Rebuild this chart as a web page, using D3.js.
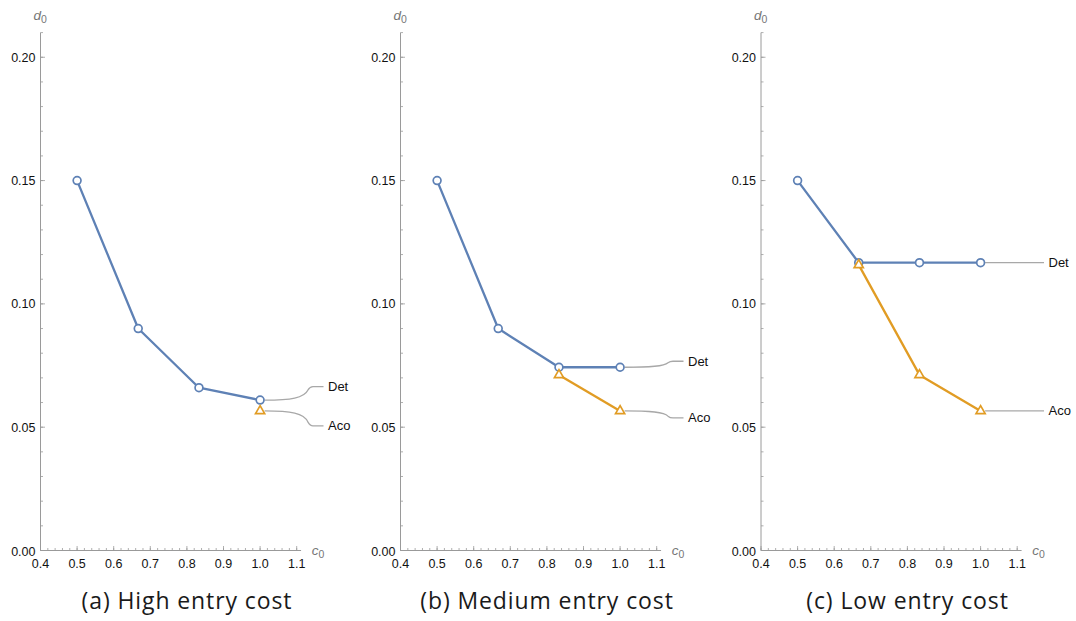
<!DOCTYPE html>
<html>
<head>
<meta charset="utf-8">
<script src="https://cdn.jsdelivr.net/npm/d3@7"></script>
<style>
  html, body { margin: 0; padding: 0; background: #fff; }
  svg { display: block; }
</style>
</head>
<body>
<svg id="chart" width="1076" height="621"></svg>
<script>
// ---------- data ----------
const captions = ["(a) High entry cost", "(b) Medium entry cost", "(c) Low entry cost"];
const xTicks = [0.4, 0.5, 0.6, 0.7, 0.8, 0.9, 1.0, 1.1];
const yTicks = [0.00, 0.05, 0.10, 0.15, 0.20];
const seriesNames = ["Det", "Aco"];

const detXA = [0.5, 0.667, 0.833, 1.0];
const detYA = [0.150, 0.090, 0.066, 0.061];
const acoXA = [1.0];
const acoYA = [0.0566];

const detXB = [0.5, 0.667, 0.833, 1.0];
const detYB = [0.150, 0.090, 0.0743, 0.0743];
const acoXB = [0.833, 1.0];
const acoYB = [0.0712, 0.0566];

const detXC = [0.5, 0.667, 0.833, 1.0];
const detYC = [0.150, 0.1167, 0.1167, 0.1167];
const acoXC = [0.667, 0.833, 1.0];
const acoYC = [0.1158, 0.0712, 0.0566];

// ---------- layout ----------
const panels = [
  { ox: 0,     det: [detXA, detYA], aco: [acoXA, acoYA], labelDy: [-13.5, 15] },
  { ox: 360,   det: [detXB, detYB], aco: [acoXB, acoYB], labelDy: [-6, 7] },
  { ox: 720.5, det: [detXC, detYC], aco: [acoXC, acoYC], labelDy: [0, 0] }
];
const colors = { Det: "#5E81B5", Aco: "#E19C24" };
const axisColor = "#9a9a9a";
const tickFont = "Liberation Sans, Arial, sans-serif";

const svg = d3.select("#chart");

panels.forEach((p, i) => {
  const g = svg.append("g").attr("transform", `translate(${p.ox},0)`);
  const x = d3.scaleLinear().domain([0.4, 1.1]).range([40.5, 296.7]);
  const y = d3.scaleLinear().domain([0, 0.21]).range([550.5, 32.6]);

  // axes lines
  g.append("line").attr("x1", x(0.4)).attr("x2", x(1.112)).attr("y1", y(0)).attr("y2", y(0))
    .attr("stroke", axisColor).attr("stroke-width", 1);
  g.append("line").attr("x1", x(0.4)).attr("x2", x(0.4)).attr("y1", y(0)).attr("y2", y(0.21))
    .attr("stroke", axisColor).attr("stroke-width", 1);

  // x ticks (major + minor), pointing up
  const xMinor = d3.range(0.4, 1.1001, 0.02);
  g.selectAll(".xmin").data(xMinor).enter().append("line")
    .attr("x1", d => x(d)).attr("x2", d => x(d))
    .attr("y1", y(0)).attr("y2", y(0) - 2.5)
    .attr("stroke", axisColor).attr("stroke-width", 0.8);
  g.selectAll(".xmaj").data(xTicks).enter().append("line")
    .attr("x1", d => x(d)).attr("x2", d => x(d))
    .attr("y1", y(0)).attr("y2", y(0) - 4.5)
    .attr("stroke", axisColor).attr("stroke-width", 0.8);
  g.selectAll(".xlab").data(xTicks).enter().append("text")
    .attr("x", d => x(d))
    .attr("y", y(0) + 17)
    .attr("text-anchor", "middle")
    .attr("font-family", tickFont)
    .attr("font-size", 12.5).attr("fill", "#111")
    .text(d => d3.format(".1f")(d));

  // y ticks (major + minor), pointing right
  const yMinor = d3.range(0, 0.2101, 0.01);
  g.selectAll(".ymin").data(yMinor).enter().append("line")
    .attr("x1", x(0.4)).attr("x2", x(0.4) + 2.5)
    .attr("y1", d => y(d)).attr("y2", d => y(d))
    .attr("stroke", axisColor).attr("stroke-width", 0.8);
  g.selectAll(".ymaj").data(yTicks).enter().append("line")
    .attr("x1", x(0.4)).attr("x2", x(0.4) + 4.5)
    .attr("y1", d => y(d)).attr("y2", d => y(d))
    .attr("stroke", axisColor).attr("stroke-width", 0.8);
  g.selectAll(".ylab").data(yTicks).enter().append("text")
    .attr("x", x(0.4) - 5)
    .attr("y", d => y(d) + (d === 0 ? 5.5 : 4.5))
    .attr("text-anchor", "end")
    .attr("font-family", tickFont)
    .attr("font-size", 12.5).attr("fill", "#111")
    .text(d => d3.format(".2f")(d));

  // axis labels
  const dl = g.append("text").attr("x", x(0.4) - 7).attr("y", 20)
    .attr("font-family", tickFont).attr("font-style", "italic")
    .attr("font-size", 13.5).attr("fill", "#777");
  dl.append("tspan").text("d");
  dl.append("tspan").attr("font-style", "normal").attr("font-size", 10.5).attr("dy", 3).text("0");
  const cl = g.append("text").attr("x", x(1.1) + 15).attr("y", y(0) + 4)
    .attr("font-family", tickFont).attr("font-style", "italic")
    .attr("font-size", 13.5).attr("fill", "#777");
  cl.append("tspan").text("c");
  cl.append("tspan").attr("font-style", "normal").attr("font-size", 10.5).attr("dy", 3).text("0");

  // series
  const line = d3.line().x(d => x(d[0])).y(d => y(d[1]));
  const series = [
    { name: "Det", pts: d3.zip(p.det[0], p.det[1]), dy: p.labelDy[0], shape: "circle" },
    { name: "Aco", pts: d3.zip(p.aco[0], p.aco[1]), dy: p.labelDy[1], shape: "triangle" }
  ];

  // callouts (behind markers)
  series.forEach(s => {
    const last = s.pts[s.pts.length - 1];
    const x0 = x(last[0]) + 4.5, y0 = y(last[1]);
    const ye = y0 + s.dy;
    const xe = x(0.4) + 272.5, x2 = x(0.4) + 283;
    let d;
    if (Math.abs(s.dy) < 1) {
      d = `M${x0},${y0}L${x2},${ye}`;
    } else {
      d = `M${x0},${y0}C${xe - 22},${y0} ${xe - 9},${y0 + (ye - y0) * 0.15} ${xe - 5},${y0 + (ye - y0) * 0.75}` +
          `Q${xe - 3},${ye} ${xe},${ye}L${x2},${ye}`;
    }
    g.append("path").attr("d", d).attr("fill", "none")
      .attr("stroke", "#a8a8a8").attr("stroke-width", 1.3);
    g.append("text").attr("x", x(0.4) + 287.5).attr("y", ye + 4.5)
      .attr("font-family", tickFont)
      .attr("font-size", 13).attr("fill", "#111").text(s.name);
  });

  series.forEach(s => {
    g.append("path").datum(s.pts).attr("d", line).attr("fill", "none")
      .attr("stroke", colors[s.name]).attr("stroke-width", 2.3)
      .attr("stroke-linejoin", "round");
  });
  series.forEach(s => {
    if (s.shape === "circle") {
      g.selectAll(null).data(s.pts).enter().append("circle")
        .attr("cx", d => x(d[0])).attr("cy", d => y(d[1])).attr("r", 3.9)
        .attr("fill", "#fff").attr("stroke", colors[s.name]).attr("stroke-width", 1.7);
    } else {
      const tri = d3.symbol().type(d3.symbolTriangle).size(36);
      g.selectAll(null).data(s.pts).enter().append("path")
        .attr("d", tri)
        .attr("transform", d => `translate(${x(d[0])},${y(d[1])})`)
        .attr("fill", "#fff").attr("stroke", colors[s.name]).attr("stroke-width", 1.7)
        .attr("stroke-linejoin", "miter");
    }
  });

  // caption
  g.append("text").attr("x", 187).attr("y", 609)
    .attr("text-anchor", "middle")
    .attr("font-family", "Open Sans, sans-serif")
    .attr("font-size", 23).attr("letter-spacing", 0.9).attr("fill", "#1a1a1a")
    .text(captions[i]);
});
</script>
</body>
</html>
